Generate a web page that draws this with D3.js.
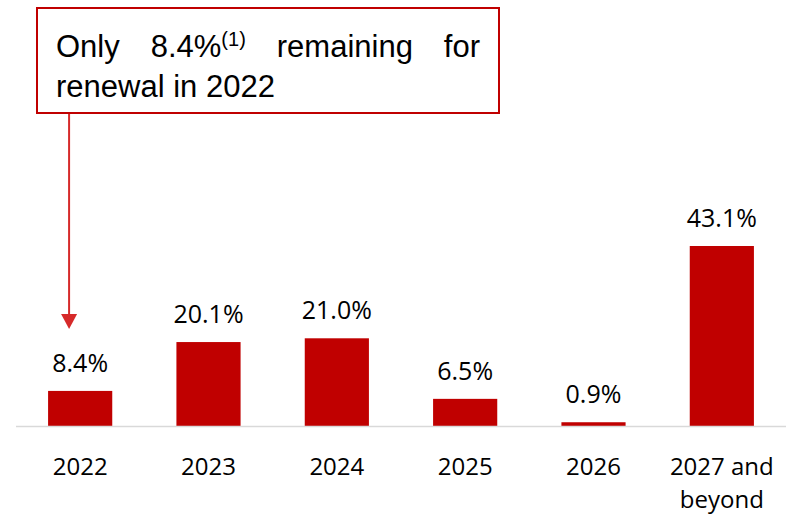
<!DOCTYPE html>
<html>
<head>
<meta charset="utf-8">
<script src="https://cdn.jsdelivr.net/npm/d3@7"></script>
<style>
  body { margin: 0; background: #fff; }
  svg { display: block; }
</style>
</head>
<body>
<div id="chart"></div>
<script>
// lease expiry profile
var years = ['2022', '2023', '2024', '2025', '2026', '2027 and beyond'];
var shares = [8.4, 20.1, 21.0, 6.5, 0.9, 43.1];
var calloutLines = [
  ['Only', '8.4%', 'remaining', 'for'],
  ['renewal', 'in', '2022']
];

var width = 790,
  height = 514;

var svg = d3
  .select('#chart')
  .append('svg')
  .attr('width', width)
  .attr('height', height);

var x = d3
  .scaleBand()
  .domain(years)
  .range([16, 786])
  .paddingInner(0.5)
  .paddingOuter(0.25);

// 43.1% -> 180px tall
var y = d3
  .scaleLinear()
  .domain([0, 43.1])
  .range([426, 246]);

var red = '#c00000';

// bars
svg
  .selectAll('rect.bar')
  .data(shares)
  .enter()
  .append('rect')
  .attr('class', 'bar')
  .attr('x', function(d, i) { return x(years[i]); })
  .attr('y', function(d) { return y(d); })
  .attr('width', x.bandwidth())
  .attr('height', function(d) { return y(0) - y(d); })
  .style('fill', red);

// baseline
svg
  .append('line')
  .attr('x1', 16)
  .attr('x2', 786)
  .attr('y1', y(0) + 0.5)
  .attr('y2', y(0) + 0.5)
  .style('stroke', '#d9d9d9')
  .style('stroke-width', 1.5);

// value labels
svg
  .selectAll('text.val')
  .data(shares)
  .enter()
  .append('text')
  .attr('class', 'val')
  .attr('x', function(d, i) { return x(years[i]) + x.bandwidth() / 2; })
  .attr('y', function(d) { return y(d) - 19; })
  .attr('text-anchor', 'middle')
  .style('font-family', '"Open Sans", sans-serif')
  .style('font-size', '25px')
  .style('fill', '#000')
  .text(function(d) { return d.toFixed(1) + '%'; });

// category labels (wrap the last one)
var xAxis = svg
  .append('g')
  .attr('transform', 'translate(0,' + y(0) + ')')
  .call(d3.axisBottom(x).tickSize(0).tickPadding(0));
xAxis.select('.domain').remove();
xAxis
  .selectAll('.tick text')
  .style('font-family', '"Open Sans", sans-serif')
  .style('font-size', '24px')
  .style('fill', '#000')
  .attr('dy', null)
  .attr('y', 49)
  .each(function(d) {
    var t = d3.select(this);
    if (d === '2027 and beyond') {
      t.text(null);
      t.append('tspan').attr('x', 0).attr('y', 49).text('2027 and');
      t.append('tspan').attr('x', 0).attr('y', 82).text('beyond');
    }
  });

// callout box
var box = { x: 37, y: 8, w: 462, h: 105 };
svg
  .append('rect')
  .attr('x', box.x)
  .attr('y', box.y)
  .attr('width', box.w)
  .attr('height', box.h)
  .style('fill', '#fff')
  .style('stroke', red)
  .style('stroke-width', 2);

var callout = svg
  .append('g')
  .style('font-family', '"Liberation Sans", Arial, sans-serif')
  .style('font-size', '31px')
  .style('fill', '#000');

var left = 56,
  right = 480;

// first line, justified
var words = callout
  .selectAll('text.w1')
  .data(calloutLines[0])
  .enter()
  .append('text')
  .attr('class', 'w1')
  .attr('y', 57)
  .each(function(d) {
    var t = d3.select(this);
    if (d === '8.4%') {
      t.append('tspan').text(d);
      t.append('tspan')
        .attr('dy', -11)
        .style('font-size', '20px')
        .text('(1)');
    } else {
      t.text(d);
    }
  });
var widths = [];
words.each(function() { widths.push(this.getComputedTextLength()); });
var gap = (right - left - d3.sum(widths)) / (widths.length - 1);
var cur = left;
words.attr('x', function(d, i) {
  var p = cur;
  cur += widths[i] + gap;
  return p;
});

callout
  .append('text')
  .attr('x', left)
  .attr('y', 97)
  .text(calloutLines[1].join(' '));

// arrow to the 2022 bar
var ax = x('2022') + 21;
svg
  .append('line')
  .attr('x1', ax)
  .attr('x2', ax)
  .attr('y1', box.y + box.h + 1)
  .attr('y2', 316)
  .style('stroke', '#d62a2a')
  .style('stroke-width', 2);
svg
  .append('path')
  .attr('d', 'M' + (ax - 8) + ',314 L' + (ax + 8) + ',314 L' + ax + ',329 Z')
  .style('fill', '#d62a2a');
</script>
</body>
</html>
